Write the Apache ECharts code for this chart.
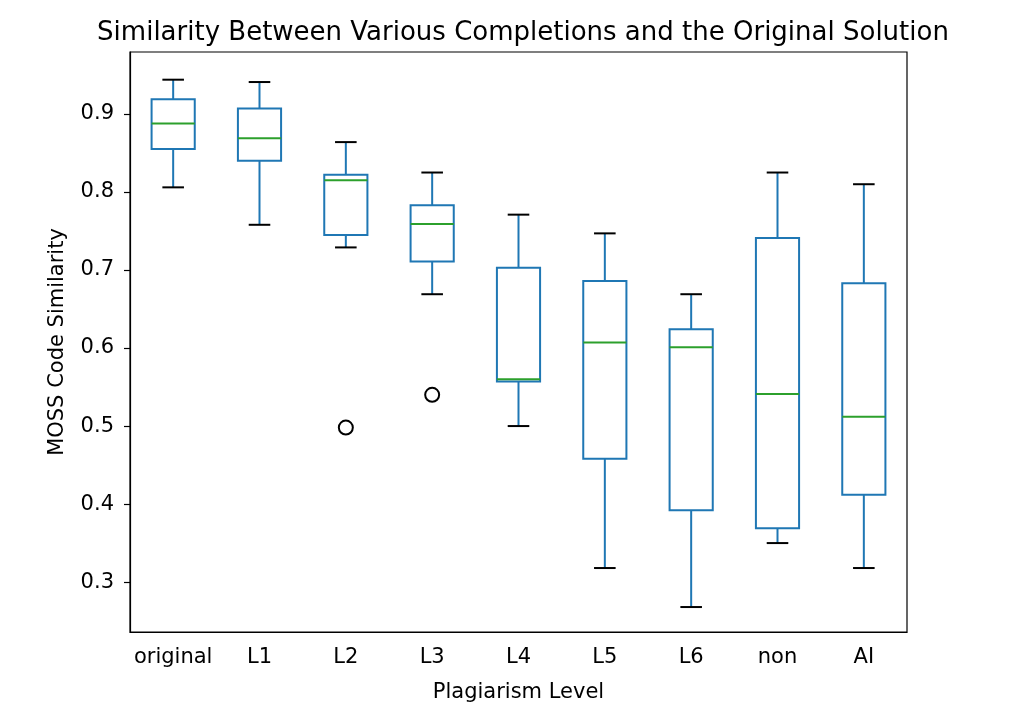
<!DOCTYPE html>
<html>
<head>
<meta charset="utf-8">
<script src="https://cdn.jsdelivr.net/npm/echarts@6/dist/echarts.min.js"></script>
<style>html,body{margin:0;padding:0;background:#fff;}#c{width:1016px;height:718px;}</style>
</head>
<body>
<div id="c"></div>
<script>
const categories = ['original', 'L1', 'L2', 'L3', 'L4', 'L5', 'L6', 'non', 'AI'];
// [lower whisker, Q1, median, Q3, upper whisker]
const lowWhisker = [0.806, 0.758, 0.729, 0.669, 0.500, 0.318, 0.268, 0.350, 0.318];
const q1Values   = [0.855, 0.840, 0.745, 0.711, 0.557, 0.458, 0.392, 0.369, 0.412];
const medians    = [0.888, 0.869, 0.815, 0.759, 0.560, 0.607, 0.601, 0.541, 0.512];
const q3Values   = [0.919, 0.907, 0.822, 0.783, 0.703, 0.686, 0.624, 0.741, 0.683];
const highWhisker= [0.944, 0.941, 0.864, 0.825, 0.771, 0.747, 0.669, 0.825, 0.810];
const outlierCats = ['L2', 'L3'];
const outlierVals = [0.498, 0.540];
const yTicks = [0.3, 0.4, 0.5, 0.6, 0.7, 0.8, 0.9];

const boxData = categories.map((c, i) => [i, lowWhisker[i], q1Values[i], medians[i], q3Values[i], highWhisker[i]]);
const outlierData = outlierCats.map((c, i) => [c, outlierVals[i]]);

const FONT = 'DejaVu Sans';
const chart = echarts.init(document.getElementById('c'));

function renderBox(params, api) {
  const idx = api.value(0);
  const lo = api.coord([idx, api.value(1)]);
  const q1 = api.coord([idx, api.value(2)]);
  const md = api.coord([idx, api.value(3)]);
  const q3 = api.coord([idx, api.value(4)]);
  const hi = api.coord([idx, api.value(5)]);
  const band = api.size([1, 0])[0];
  const bw = band * 0.5;
  const cw = band * 0.25;
  const x = lo[0];
  const blue = '#1f77b4';
  const lw = 2;
  return {
    type: 'group',
    children: [
      {type: 'line', shape: {x1: x, y1: q1[1], x2: x, y2: lo[1]}, style: {stroke: blue, lineWidth: lw}},
      {type: 'line', shape: {x1: x, y1: q3[1], x2: x, y2: hi[1]}, style: {stroke: blue, lineWidth: lw}},
      {type: 'line', shape: {x1: x - cw / 2, y1: lo[1], x2: x + cw / 2, y2: lo[1]}, style: {stroke: '#000', lineWidth: lw}},
      {type: 'line', shape: {x1: x - cw / 2, y1: hi[1], x2: x + cw / 2, y2: hi[1]}, style: {stroke: '#000', lineWidth: lw}},
      {type: 'rect', shape: {x: x - bw / 2, y: q3[1], width: bw, height: q1[1] - q3[1]}, style: {fill: 'none', stroke: blue, lineWidth: lw}},
      {type: 'line', shape: {x1: x - bw / 2, y1: md[1], x2: x + bw / 2, y2: md[1]}, style: {stroke: '#2ca02c', lineWidth: lw}}
    ]
  };
}

chart.setOption({
  animation: false,
  backgroundColor: '#fff',
  title: {
    text: 'Similarity Between Various Completions and the Original Solution',
    left: 518, textAlign: 'center', top: 15,
    textStyle: {fontFamily: FONT, fontSize: 26, fontWeight: 'normal', color: '#000'}
  },
  grid: {left: 130, right: 109, top: 52, bottom: 86, show: true, borderColor: '#000', borderWidth: 1.2, backgroundColor: 'transparent'},
  xAxis: {
    type: 'category',
    data: categories,
    name: 'Plagiarism Level',
    nameLocation: 'middle',
    nameGap: 50,
    nameTextStyle: {fontFamily: FONT, fontSize: 21, color: '#000'},
    axisLine: {lineStyle: {color: '#000', width: 1.2}},
    axisTick: {alignWithLabel: true, length: 6, lineStyle: {color: '#000', width: 1.2}},
    axisLabel: {fontFamily: FONT, fontSize: 21, color: '#000', margin: 15, interval: 0},
    splitLine: {show: false}
  },
  yAxis: {
    type: 'value',
    min: 0.236, max: 0.9795,
    name: 'MOSS Code Similarity',
    nameLocation: 'middle',
    nameGap: 62,
    nameTextStyle: {fontFamily: FONT, fontSize: 21, color: '#000'},
    axisLine: {show: true, lineStyle: {color: '#000', width: 1.2}},
    axisTick: {show: true, length: 6, customValues: yTicks, lineStyle: {color: '#000', width: 1.2}},
    axisLabel: {fontFamily: FONT, fontSize: 21, color: '#000', margin: 16, customValues: yTicks, formatter: v => v.toFixed(1)},
    splitLine: {show: false}
  },
  series: [
    {type: 'custom', renderItem: renderBox, data: boxData, encode: {x: 0, y: [1, 2, 3, 4, 5]}, z: 2},
    {type: 'scatter', data: outlierData, symbol: 'circle', symbolSize: 14,
     itemStyle: {color: '#fff', borderColor: '#000', borderWidth: 2, opacity: 1}, z: 3}
  ]
});
</script>
</body>
</html>
